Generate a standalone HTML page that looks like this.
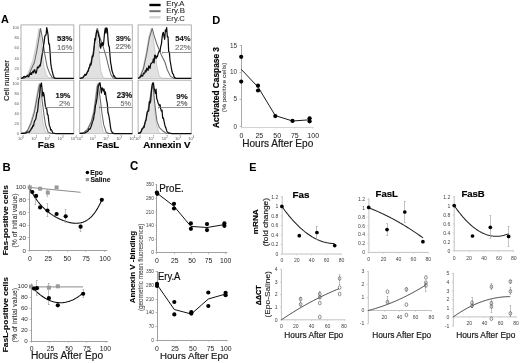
<!DOCTYPE html>
<html><head><meta charset="utf-8"><style>
html,body{margin:0;padding:0;background:#fff;}
svg{display:block;will-change:transform;}
text{font-family:"Liberation Sans", sans-serif;}
</style></head><body>
<svg width="520" height="363" viewBox="0 0 520 363">
<defs><filter id="bl" x="0" y="0" width="100%" height="100%"><feGaussianBlur stdDeviation="0.5"/></filter></defs>
<rect width="520" height="363" fill="#fff"/>
<g filter="url(#bl)">
<text font-size="11.159" font-weight="bold" fill="#000" stroke="#000" stroke-width="0.05" transform="translate(0.98 22.95) scale(0.976 1)">A</text>
<text font-size="11.594" font-weight="bold" fill="#000" stroke="#000" stroke-width="0.05" transform="translate(212.13 23.55) scale(0.954 1)">D</text>
<text font-size="11.159" font-weight="bold" fill="#000" stroke="#000" stroke-width="0.05" transform="translate(2.61 170.75) scale(1.014 1)">B</text>
<text font-size="12.113" font-weight="bold" fill="#000" stroke="#000" stroke-width="0.05" transform="translate(129.99 169.83) scale(0.945 1)">C</text>
<text font-size="11.486" font-weight="bold" fill="#000" stroke="#000" stroke-width="0.05" transform="translate(249.15 170.56) scale(0.940 1)">E</text>
<rect x="21.00" y="24.90" width="52.80" height="53.50" fill="#fff" stroke="#a8a8a8" stroke-width="0.9"/>
<path d="M21.00,78.40 L24.96,77.39 L28.00,73.35 L32.88,60.22 L36.05,46.08 L38.95,28.41 L40.80,36.48 L42.38,54.16 L43.97,66.78 L46.08,74.36 L48.06,77.39 L51.36,78.40 L73.80,78.40 L73.80,78.40 L21.00,78.40 Z" stroke="none" stroke-width="0" fill="#e1e1e1" stroke-linejoin="round"/>
<path d="M21.00,78.40 L24.96,77.39 L28.00,73.35 L32.88,60.22 L36.05,46.08 L38.95,28.41 L40.80,36.48 L42.38,54.16 L43.97,66.78 L46.08,74.36 L48.06,77.39 L51.36,78.40 L73.80,78.40" stroke="#c0c0c0" stroke-width="0.75" fill="none" stroke-linejoin="round"/>
<path d="M21.00,78.40 L24.96,77.90 L28.92,74.36 L34.46,62.24 L36.84,50.83 L39.22,36.48 L40.54,28.41 L42.38,38.00 L44.76,54.16 L47.14,66.78 L49.64,73.35 L52.02,77.39 L55.32,78.40 L73.80,78.40" stroke="#686868" stroke-width="1.05" fill="none" stroke-linejoin="round"/>
<path d="M21.00,78.40 L21.66,78.07 L22.32,77.74 L22.98,77.92 L23.64,76.54 L24.30,76.49 L24.96,77.22 L25.62,76.63 L26.28,76.56 L26.94,75.98 L27.60,75.52 L28.26,76.87 L28.92,76.72 L29.58,73.99 L30.24,74.37 L30.90,72.64 L31.56,74.44 L32.22,72.43 L32.88,71.19 L33.54,72.73 L34.20,69.82 L34.86,69.81 L35.52,73.10 L36.18,73.12 L36.84,70.01 L37.50,66.79 L38.16,67.85 L38.82,67.44 L39.48,65.17 L40.14,66.09 L40.80,63.05 L41.46,58.52 L42.12,54.85 L42.78,51.30 L43.44,46.26 L44.10,42.61 L44.76,36.62 L45.42,35.15 L46.08,34.95 L46.74,27.65 L47.40,30.89 L48.06,35.00 L48.72,43.90 L49.38,43.79 L50.04,51.64 L50.70,62.66 L51.36,67.41 L52.02,70.49 L52.68,73.22 L53.34,75.50 L54.00,77.38 L54.66,78.15 L55.32,78.23 L55.98,78.32 L56.64,78.40 L57.30,78.40 L57.96,78.40 L58.62,78.40 L59.28,78.40 L59.94,78.40 L60.60,78.40 L61.26,78.40 L61.92,78.40 L62.58,78.40 L63.24,78.40 L63.90,78.40 L64.56,78.40 L65.22,78.40 L65.88,78.40 L66.54,78.40 L67.20,78.40 L67.86,78.40 L68.52,78.40 L69.18,78.40 L69.84,78.40 L70.50,78.40 L71.16,78.40 L71.82,78.40 L72.48,78.40 L73.14,78.40 L73.80,78.40" stroke="#111" stroke-width="1.25" fill="none" stroke-linejoin="round"/>
<line x1="42.30" y1="52.50" x2="73.80" y2="52.50" stroke="#707070" stroke-width="0.75"/>
<line x1="42.50" y1="51.40" x2="42.50" y2="53.40" stroke="#707070" stroke-width="0.6"/>
<text font-size="7.606" font-weight="bold" fill="#1a1a1a" stroke="#1a1a1a" stroke-width="0.20" transform="translate(57.07 40.52) scale(1.007 1)">53%</text>
<text font-size="7.324" fill="#6a6a6a" stroke="#6a6a6a" stroke-width="0.10" transform="translate(57.02 49.63) scale(1.055 1)">16%</text>
<text x="18.8" y="79.70" font-size="3.8" text-anchor="end" fill="#555">0</text>
<line x1="20.00" y1="78.50" x2="21.00" y2="78.50" stroke="#999" stroke-width="0.5"/>
<text x="18.8" y="69.60" font-size="3.8" text-anchor="end" fill="#555">20</text>
<line x1="20.00" y1="68.50" x2="21.00" y2="68.50" stroke="#999" stroke-width="0.5"/>
<text x="18.8" y="59.50" font-size="3.8" text-anchor="end" fill="#555">40</text>
<line x1="20.00" y1="58.50" x2="21.00" y2="58.50" stroke="#999" stroke-width="0.5"/>
<text x="18.8" y="49.40" font-size="3.8" text-anchor="end" fill="#555">60</text>
<line x1="20.00" y1="48.50" x2="21.00" y2="48.50" stroke="#999" stroke-width="0.5"/>
<text x="18.8" y="39.30" font-size="3.8" text-anchor="end" fill="#555">80</text>
<line x1="20.00" y1="38.50" x2="21.00" y2="38.50" stroke="#999" stroke-width="0.5"/>
<text x="18.8" y="29.20" font-size="3.8" text-anchor="end" fill="#555">100</text>
<line x1="20.00" y1="27.50" x2="21.00" y2="27.50" stroke="#999" stroke-width="0.5"/>
<rect x="79.70" y="24.90" width="52.60" height="53.50" fill="#fff" stroke="#a8a8a8" stroke-width="0.9"/>
<path d="M79.70,78.40 L83.65,76.89 L87.06,72.84 L90.22,64.26 L92.59,55.17 L94.17,45.07 L95.48,33.96 L96.66,28.41 L97.85,40.52 L99.03,54.16 L100.74,70.32 L102.98,77.39 L105.34,78.40 L132.30,78.40 L132.30,78.40 L79.70,78.40 Z" stroke="none" stroke-width="0" fill="#e1e1e1" stroke-linejoin="round"/>
<path d="M79.70,78.40 L83.65,76.89 L87.06,72.84 L90.22,64.26 L92.59,55.17 L94.17,45.07 L95.48,33.96 L96.66,28.41 L97.85,40.52 L99.03,54.16 L100.74,70.32 L102.98,77.39 L105.34,78.40 L132.30,78.40" stroke="#c0c0c0" stroke-width="0.75" fill="none" stroke-linejoin="round"/>
<path d="M79.70,78.40 L83.65,76.89 L87.06,73.35 L90.22,64.77 L92.59,56.18 L94.17,47.09 L95.48,36.99 L97.45,28.41 L100.08,38.00 L102.98,46.08 L106.26,57.19 L108.63,66.78 L111.00,74.87 L113.23,77.90 L115.21,78.40 L132.30,78.40" stroke="#686868" stroke-width="1.05" fill="none" stroke-linejoin="round"/>
<path d="M79.70,78.40 L80.36,78.27 L81.02,78.15 L81.67,78.02 L82.33,77.90 L82.99,77.82 L83.65,76.12 L84.30,75.55 L84.96,74.19 L85.62,75.31 L86.28,74.80 L86.93,72.73 L87.59,71.43 L88.25,71.12 L88.91,67.82 L89.56,67.45 L90.22,63.84 L90.88,65.15 L91.54,62.43 L92.19,55.99 L92.85,56.80 L93.51,54.21 L94.17,46.77 L94.82,38.69 L95.48,40.00 L96.14,34.79 L96.80,30.47 L97.45,31.77 L98.11,32.44 L98.77,36.56 L99.43,37.61 L100.08,46.57 L100.74,48.29 L101.40,43.02 L102.06,45.74 L102.71,42.65 L103.37,45.22 L104.03,38.97 L104.69,31.48 L105.34,28.07 L106.00,33.20 L106.66,27.86 L107.32,29.22 L107.97,38.82 L108.63,45.74 L109.29,46.53 L109.95,55.04 L110.60,62.36 L111.26,65.60 L111.92,70.56 L112.58,72.40 L113.23,74.41 L113.89,76.45 L114.55,75.93 L115.21,77.98 L115.86,77.90 L116.52,78.40 L117.18,78.40 L117.84,78.40 L118.49,78.40 L119.15,78.40 L119.81,78.40 L120.47,78.40 L121.12,78.40 L121.78,78.40 L122.44,78.40 L123.09,78.40 L123.75,78.40 L124.41,78.40 L125.07,78.40 L125.73,78.40 L126.38,78.40 L127.04,78.40 L127.70,78.40 L128.36,78.40 L129.01,78.40 L129.67,78.40 L130.33,78.40 L130.99,78.40 L131.64,78.40 L132.30,78.40" stroke="#111" stroke-width="1.25" fill="none" stroke-linejoin="round"/>
<line x1="99.60" y1="52.50" x2="132.30" y2="52.50" stroke="#707070" stroke-width="0.75"/>
<line x1="99.50" y1="51.40" x2="99.50" y2="53.40" stroke="#707070" stroke-width="0.6"/>
<text font-size="7.183" font-weight="bold" fill="#1a1a1a" stroke="#1a1a1a" stroke-width="0.10" transform="translate(115.71 40.83) scale(1.042 1)">39%</text>
<text font-size="7.801" fill="#6a6a6a" stroke="#6a6a6a" stroke-width="0.20" transform="translate(115.52 49.36) scale(0.977 1)">22%</text>
<rect x="138.10" y="24.90" width="53.20" height="53.50" fill="#fff" stroke="#a8a8a8" stroke-width="0.9"/>
<path d="M138.10,78.40 L139.43,76.89 L142.75,69.31 L146.08,53.15 L148.74,36.99 L151.40,28.41 L153.40,39.01 L155.39,54.16 L156.99,66.78 L159.38,76.38 L162.04,78.40 L191.30,78.40 L191.30,78.40 L138.10,78.40 Z" stroke="none" stroke-width="0" fill="#e1e1e1" stroke-linejoin="round"/>
<path d="M138.10,78.40 L139.43,76.89 L142.75,69.31 L146.08,53.15 L148.74,36.99 L151.40,28.41 L153.40,39.01 L155.39,54.16 L156.99,66.78 L159.38,76.38 L162.04,78.40 L191.30,78.40" stroke="#c0c0c0" stroke-width="0.75" fill="none" stroke-linejoin="round"/>
<path d="M138.10,78.40 L140.23,76.38 L143.42,68.81 L146.61,54.16 L149.41,38.00 L152.20,28.41 L154.06,35.48 L156.99,44.56 L160.98,54.16 L164.97,62.24 L167.36,70.02 L170.55,76.38 L174.01,78.40 L191.30,78.40" stroke="#686868" stroke-width="1.05" fill="none" stroke-linejoin="round"/>
<path d="M138.10,78.40 L138.76,78.08 L139.43,77.77 L140.09,77.25 L140.76,76.47 L141.42,75.14 L142.09,76.16 L142.75,75.90 L143.42,73.04 L144.09,73.72 L144.75,72.79 L145.41,70.34 L146.08,71.93 L146.75,68.18 L147.41,69.25 L148.07,70.45 L148.74,65.93 L149.41,66.84 L150.07,68.52 L150.73,63.89 L151.40,63.32 L152.06,62.62 L152.73,62.21 L153.40,58.83 L154.06,62.92 L154.72,55.15 L155.39,55.48 L156.06,58.53 L156.72,56.07 L157.38,56.96 L158.05,53.88 L158.72,52.17 L159.38,50.70 L160.05,51.28 L160.71,46.29 L161.38,44.35 L162.04,37.82 L162.71,33.58 L163.37,32.39 L164.03,36.58 L164.70,39.33 L165.37,29.98 L166.03,31.51 L166.69,27.65 L167.36,36.99 L168.03,36.77 L168.69,51.78 L169.36,52.10 L170.02,60.40 L170.69,64.00 L171.35,67.99 L172.01,71.54 L172.68,73.81 L173.34,74.13 L174.01,76.62 L174.68,77.66 L175.34,77.90 L176.00,78.32 L176.67,78.40 L177.34,78.40 L178.00,78.40 L178.67,78.40 L179.33,78.40 L180.00,78.40 L180.66,78.40 L181.33,78.40 L181.99,78.40 L182.66,78.40 L183.32,78.40 L183.99,78.40 L184.65,78.40 L185.31,78.40 L185.98,78.40 L186.65,78.40 L187.31,78.40 L187.98,78.40 L188.64,78.40 L189.31,78.40 L189.97,78.40 L190.64,78.40 L191.30,78.40" stroke="#111" stroke-width="1.25" fill="none" stroke-linejoin="round"/>
<line x1="162.40" y1="52.50" x2="191.30" y2="52.50" stroke="#707070" stroke-width="0.75"/>
<line x1="162.50" y1="51.70" x2="162.50" y2="53.70" stroke="#707070" stroke-width="0.6"/>
<text font-size="7.234" font-weight="bold" fill="#1a1a1a" stroke="#1a1a1a" stroke-width="0.10" transform="translate(175.27 41.13) scale(1.059 1)">54%</text>
<text font-size="7.376" fill="#6a6a6a" stroke="#6a6a6a" stroke-width="0.10" transform="translate(175.11 49.66) scale(1.055 1)">22%</text>
<rect x="21.00" y="80.20" width="52.80" height="53.30" fill="#fff" stroke="#a8a8a8" stroke-width="0.9"/>
<path d="M21.00,133.50 L24.96,132.49 L27.60,129.98 L30.50,122.43 L33.94,110.87 L36.18,98.29 L37.90,88.23 L38.95,83.70 L41.59,111.87 L43.18,123.94 L45.55,131.99 L48.72,133.50 L73.80,133.50 L73.80,133.50 L21.00,133.50 Z" stroke="none" stroke-width="0" fill="#e1e1e1" stroke-linejoin="round"/>
<path d="M21.00,133.50 L24.96,132.49 L27.60,129.98 L30.50,122.43 L33.94,110.87 L36.18,98.29 L37.90,88.23 L38.95,83.70 L41.59,111.87 L43.18,123.94 L45.55,131.99 L48.72,133.50 L73.80,133.50" stroke="#c0c0c0" stroke-width="0.75" fill="none" stroke-linejoin="round"/>
<path d="M21.00,133.50 L24.96,132.75 L27.60,130.48 L31.16,122.94 L34.46,111.87 L36.84,98.79 L38.82,88.23 L40.01,83.70 L42.38,101.81 L43.97,114.89 L45.55,124.95 L48.06,131.99 L51.36,133.50 L73.80,133.50" stroke="#686868" stroke-width="1.05" fill="none" stroke-linejoin="round"/>
<path d="M21.00,133.50 L21.66,133.46 L22.32,133.42 L22.98,133.37 L23.64,133.33 L24.30,133.29 L24.96,133.25 L25.62,133.06 L26.28,132.87 L26.94,132.31 L27.60,132.04 L28.26,132.02 L28.92,131.97 L29.58,132.11 L30.24,130.08 L30.90,130.06 L31.56,127.98 L32.22,128.01 L32.88,125.35 L33.54,126.10 L34.20,122.26 L34.86,120.38 L35.52,119.87 L36.18,117.10 L36.84,112.61 L37.50,111.95 L38.16,105.50 L38.82,98.54 L39.48,97.52 L40.14,87.80 L40.80,84.41 L41.46,82.95 L42.12,89.96 L42.78,96.08 L43.44,92.47 L44.10,95.25 L44.76,101.00 L45.42,106.45 L46.08,108.66 L46.74,108.74 L47.40,114.59 L48.06,114.77 L48.72,120.99 L49.38,125.70 L50.04,126.88 L50.70,130.03 L51.36,129.66 L52.02,130.97 L52.68,132.79 L53.34,133.10 L54.00,133.24 L54.66,133.37 L55.32,133.50 L55.98,133.50 L56.64,133.50 L57.30,133.50 L57.96,133.50 L58.62,133.50 L59.28,133.50 L59.94,133.50 L60.60,133.50 L61.26,133.50 L61.92,133.50 L62.58,133.50 L63.24,133.50 L63.90,133.50 L64.56,133.50 L65.22,133.50 L65.88,133.50 L66.54,133.50 L67.20,133.50 L67.86,133.50 L68.52,133.50 L69.18,133.50 L69.84,133.50 L70.50,133.50 L71.16,133.50 L71.82,133.50 L72.48,133.50 L73.14,133.50 L73.80,133.50" stroke="#111" stroke-width="1.25" fill="none" stroke-linejoin="round"/>
<line x1="45.30" y1="107.50" x2="73.80" y2="107.50" stroke="#707070" stroke-width="0.75"/>
<line x1="45.50" y1="106.40" x2="45.50" y2="108.40" stroke="#707070" stroke-width="0.6"/>
<text font-size="7.887" font-weight="bold" fill="#1a1a1a" stroke="#1a1a1a" stroke-width="0.20" transform="translate(55.52 97.82) scale(0.943 1)">19%</text>
<text font-size="7.092" fill="#6a6a6a" stroke="#6a6a6a" stroke-width="0.10" transform="translate(58.91 106.16) scale(1.099 1)">2%</text>
<text x="21.00" y="139.6" font-size="4.0" text-anchor="middle" fill="#555">10<tspan font-size="2.8" dy="-1.7">0</tspan></text>
<text x="34.20" y="139.6" font-size="4.0" text-anchor="middle" fill="#555">10<tspan font-size="2.8" dy="-1.7">1</tspan></text>
<text x="47.40" y="139.6" font-size="4.0" text-anchor="middle" fill="#555">10<tspan font-size="2.8" dy="-1.7">2</tspan></text>
<text x="60.60" y="139.6" font-size="4.0" text-anchor="middle" fill="#555">10<tspan font-size="2.8" dy="-1.7">3</tspan></text>
<text x="73.80" y="139.6" font-size="4.0" text-anchor="middle" fill="#555">10<tspan font-size="2.8" dy="-1.7">4</tspan></text>
<text x="18.8" y="134.80" font-size="3.8" text-anchor="end" fill="#555">0</text>
<line x1="20.00" y1="133.50" x2="21.00" y2="133.50" stroke="#999" stroke-width="0.5"/>
<text x="18.8" y="124.74" font-size="3.8" text-anchor="end" fill="#555">20</text>
<line x1="20.00" y1="123.50" x2="21.00" y2="123.50" stroke="#999" stroke-width="0.5"/>
<text x="18.8" y="114.68" font-size="3.8" text-anchor="end" fill="#555">40</text>
<line x1="20.00" y1="113.50" x2="21.00" y2="113.50" stroke="#999" stroke-width="0.5"/>
<text x="18.8" y="104.62" font-size="3.8" text-anchor="end" fill="#555">60</text>
<line x1="20.00" y1="103.50" x2="21.00" y2="103.50" stroke="#999" stroke-width="0.5"/>
<text x="18.8" y="94.56" font-size="3.8" text-anchor="end" fill="#555">80</text>
<line x1="20.00" y1="93.50" x2="21.00" y2="93.50" stroke="#999" stroke-width="0.5"/>
<text x="18.8" y="84.50" font-size="3.8" text-anchor="end" fill="#555">100</text>
<line x1="20.00" y1="83.50" x2="21.00" y2="83.50" stroke="#999" stroke-width="0.5"/>
<rect x="79.70" y="80.20" width="52.60" height="53.30" fill="#fff" stroke="#a8a8a8" stroke-width="0.9"/>
<path d="M79.70,133.50 L83.65,132.49 L87.33,128.97 L90.88,121.43 L93.51,110.87 L95.22,98.29 L96.53,87.22 L97.45,83.70 L99.82,111.87 L101.40,123.94 L103.37,131.99 L106.00,133.50 L132.30,133.50 L132.30,133.50 L79.70,133.50 Z" stroke="none" stroke-width="0" fill="#e1e1e1" stroke-linejoin="round"/>
<path d="M79.70,133.50 L83.65,132.49 L87.33,128.97 L90.88,121.43 L93.51,110.87 L95.22,98.29 L96.53,87.22 L97.45,83.70 L99.82,111.87 L101.40,123.94 L103.37,131.99 L106.00,133.50 L132.30,133.50" stroke="#c0c0c0" stroke-width="0.75" fill="none" stroke-linejoin="round"/>
<path d="M79.70,133.50 L83.65,132.75 L87.59,129.48 L91.27,121.93 L93.90,112.37 L95.48,100.81 L97.19,87.22 L98.24,83.70 L100.61,101.81 L102.19,114.89 L103.76,124.95 L106.13,131.99 L108.63,133.50 L132.30,133.50" stroke="#686868" stroke-width="1.05" fill="none" stroke-linejoin="round"/>
<path d="M79.70,133.50 L80.36,133.46 L81.02,133.42 L81.67,133.37 L82.33,133.33 L82.99,133.29 L83.65,133.25 L84.30,133.06 L84.96,132.87 L85.62,132.46 L86.28,132.09 L86.93,131.83 L87.59,131.21 L88.25,130.86 L88.91,128.66 L89.56,129.37 L90.22,128.69 L90.88,127.12 L91.54,125.27 L92.19,122.90 L92.85,121.13 L93.51,119.05 L94.17,114.73 L94.82,111.77 L95.48,105.32 L96.14,103.22 L96.80,99.51 L97.45,94.23 L98.11,86.81 L98.77,85.81 L99.43,82.95 L100.08,82.95 L100.74,88.05 L101.40,93.02 L102.06,87.86 L102.71,88.37 L103.37,91.09 L104.03,89.05 L104.69,94.30 L105.34,91.90 L106.00,96.53 L106.66,100.78 L107.32,103.52 L107.97,112.52 L108.63,114.71 L109.29,118.12 L109.95,122.76 L110.60,127.85 L111.26,130.94 L111.92,131.87 L112.58,133.10 L113.23,133.03 L113.89,133.50 L114.55,133.50 L115.21,133.50 L115.86,133.50 L116.52,133.50 L117.18,133.50 L117.84,133.50 L118.49,133.50 L119.15,133.50 L119.81,133.50 L120.47,133.50 L121.12,133.50 L121.78,133.50 L122.44,133.50 L123.09,133.50 L123.75,133.50 L124.41,133.50 L125.07,133.50 L125.73,133.50 L126.38,133.50 L127.04,133.50 L127.70,133.50 L128.36,133.50 L129.01,133.50 L129.67,133.50 L130.33,133.50 L130.99,133.50 L131.64,133.50 L132.30,133.50" stroke="#111" stroke-width="1.25" fill="none" stroke-linejoin="round"/>
<line x1="99.30" y1="107.50" x2="132.30" y2="107.50" stroke="#707070" stroke-width="0.75"/>
<line x1="99.50" y1="106.50" x2="99.50" y2="108.50" stroke="#707070" stroke-width="0.6"/>
<text font-size="8.225" font-weight="bold" fill="#1a1a1a" stroke="#1a1a1a" stroke-width="0.20" transform="translate(116.73 98.09) scale(0.940 1)">23%</text>
<text font-size="6.525" fill="#6a6a6a" stroke="#6a6a6a" stroke-width="0.10" transform="translate(120.61 105.73) scale(1.108 1)">5%</text>
<text x="79.70" y="139.6" font-size="4.0" text-anchor="middle" fill="#555">10<tspan font-size="2.8" dy="-1.7">0</tspan></text>
<text x="92.85" y="139.6" font-size="4.0" text-anchor="middle" fill="#555">10<tspan font-size="2.8" dy="-1.7">1</tspan></text>
<text x="106.00" y="139.6" font-size="4.0" text-anchor="middle" fill="#555">10<tspan font-size="2.8" dy="-1.7">2</tspan></text>
<text x="119.15" y="139.6" font-size="4.0" text-anchor="middle" fill="#555">10<tspan font-size="2.8" dy="-1.7">3</tspan></text>
<text x="132.30" y="139.6" font-size="4.0" text-anchor="middle" fill="#555">10<tspan font-size="2.8" dy="-1.7">4</tspan></text>
<rect x="138.10" y="80.20" width="53.20" height="53.30" fill="#fff" stroke="#a8a8a8" stroke-width="0.9"/>
<path d="M138.10,133.50 L140.23,132.49 L143.42,126.96 L145.81,119.92 L148.21,107.34 L150.60,93.26 L152.60,83.70 L154.59,109.86 L156.19,122.69 L158.58,131.49 L160.71,133.50 L191.30,133.50 L191.30,133.50 L138.10,133.50 Z" stroke="none" stroke-width="0" fill="#e1e1e1" stroke-linejoin="round"/>
<path d="M138.10,133.50 L140.23,132.49 L143.42,126.96 L145.81,119.92 L148.21,107.34 L150.60,93.26 L152.60,83.70 L154.59,109.86 L156.19,122.69 L158.58,131.49 L160.71,133.50 L191.30,133.50" stroke="#c0c0c0" stroke-width="0.75" fill="none" stroke-linejoin="round"/>
<path d="M138.10,133.50 L140.23,132.49 L143.42,127.46 L145.81,120.92 L148.21,109.36 L150.60,96.28 L153.00,83.70 L154.59,101.81 L155.92,113.38 L156.99,121.43 L159.38,127.61 L162.57,130.73 L165.76,133.00 L168.69,133.50 L191.30,133.50" stroke="#686868" stroke-width="1.05" fill="none" stroke-linejoin="round"/>
<path d="M138.10,133.50 L138.76,133.19 L139.43,132.87 L140.09,133.14 L140.76,132.23 L141.42,131.13 L142.09,128.53 L142.75,128.64 L143.42,126.86 L144.09,127.46 L144.75,124.14 L145.41,120.84 L146.08,120.02 L146.75,114.36 L147.41,111.31 L148.07,111.38 L148.74,110.71 L149.41,101.59 L150.07,103.14 L150.73,100.72 L151.40,90.41 L152.06,85.26 L152.73,82.95 L153.40,82.95 L154.06,87.83 L154.72,90.63 L155.39,93.50 L156.06,89.04 L156.72,98.81 L157.38,100.07 L158.05,102.91 L158.72,104.26 L159.38,105.73 L160.05,104.67 L160.71,108.91 L161.38,110.99 L162.04,110.20 L162.71,118.24 L163.37,117.96 L164.03,121.12 L164.70,124.61 L165.37,126.88 L166.03,128.34 L166.69,130.66 L167.36,132.03 L168.03,132.40 L168.69,133.06 L169.36,133.08 L170.02,133.22 L170.69,133.36 L171.35,133.50 L172.01,133.50 L172.68,133.50 L173.34,133.50 L174.01,133.50 L174.68,133.50 L175.34,133.50 L176.00,133.50 L176.67,133.50 L177.34,133.50 L178.00,133.50 L178.67,133.50 L179.33,133.50 L180.00,133.50 L180.66,133.50 L181.33,133.50 L181.99,133.50 L182.66,133.50 L183.32,133.50 L183.99,133.50 L184.65,133.50 L185.31,133.50 L185.98,133.50 L186.65,133.50 L187.31,133.50 L187.98,133.50 L188.64,133.50 L189.31,133.50 L189.97,133.50 L190.64,133.50 L191.30,133.50" stroke="#111" stroke-width="1.25" fill="none" stroke-linejoin="round"/>
<line x1="158.30" y1="107.50" x2="191.30" y2="107.50" stroke="#707070" stroke-width="0.75"/>
<line x1="158.50" y1="106.50" x2="158.50" y2="108.50" stroke="#707070" stroke-width="0.6"/>
<text font-size="8.028" font-weight="bold" fill="#1a1a1a" stroke="#1a1a1a" stroke-width="0.20" transform="translate(176.32 98.52) scale(0.980 1)">9%</text>
<text font-size="7.518" fill="#6a6a6a" stroke="#6a6a6a" stroke-width="0.20" transform="translate(176.52 106.46) scale(1.007 1)">2%</text>
<text x="138.10" y="139.6" font-size="4.0" text-anchor="middle" fill="#555">10<tspan font-size="2.8" dy="-1.7">0</tspan></text>
<text x="151.40" y="139.6" font-size="4.0" text-anchor="middle" fill="#555">10<tspan font-size="2.8" dy="-1.7">1</tspan></text>
<text x="164.70" y="139.6" font-size="4.0" text-anchor="middle" fill="#555">10<tspan font-size="2.8" dy="-1.7">2</tspan></text>
<text x="178.00" y="139.6" font-size="4.0" text-anchor="middle" fill="#555">10<tspan font-size="2.8" dy="-1.7">3</tspan></text>
<text x="191.30" y="139.6" font-size="4.0" text-anchor="middle" fill="#555">10<tspan font-size="2.8" dy="-1.7">4</tspan></text>
<text font-size="9.855" font-weight="bold" fill="#000" stroke="#000" stroke-width="0.20" transform="translate(37.86 148.40) scale(0.999 1)">Fas</text>
<text font-size="9.855" font-weight="bold" fill="#000" stroke="#000" stroke-width="0.20" transform="translate(96.62 148.40) scale(0.985 1)">FasL</text>
<text font-size="9.855" font-weight="bold" fill="#000" stroke="#000" stroke-width="0.20" transform="translate(143.26 148.40) scale(0.981 1)">Annexin V</text>
<text font-size="8.091" fill="#222" stroke="#222" stroke-width="0.20" transform="translate(8.84 101.08) rotate(-90) scale(0.940 1)">Cell number</text>
<line x1="149.40" y1="5.00" x2="160.60" y2="5.00" stroke="#000" stroke-width="2.4"/>
<line x1="149.40" y1="11.20" x2="160.60" y2="11.20" stroke="#6a6a6a" stroke-width="1.9"/>
<line x1="149.40" y1="17.30" x2="160.60" y2="17.30" stroke="#d6d6d6" stroke-width="2.4"/>
<text font-size="7.101" fill="#2a2a2a" stroke="#2a2a2a" stroke-width="0.10" transform="translate(166.29 6.40) scale(1.082 1)">Ery.A</text>
<text font-size="6.957" fill="#2a2a2a" stroke="#2a2a2a" stroke-width="0.10" transform="translate(166.27 13.30) scale(1.129 1)">Ery.B</text>
<text font-size="7.391" fill="#2a2a2a" stroke="#2a2a2a" stroke-width="0.10" transform="translate(166.29 20.60) scale(1.033 1)">Ery.C</text>
<line x1="241.50" y1="45.00" x2="241.50" y2="127.00" stroke="#a0a0a0" stroke-width="0.9"/>
<line x1="241.20" y1="127.50" x2="313.50" y2="127.50" stroke="#c8c8c8" stroke-width="0.8"/>
<line x1="239.60" y1="126.50" x2="241.20" y2="126.50" stroke="#a0a0a0" stroke-width="0.7"/>
<line x1="239.60" y1="99.50" x2="241.20" y2="99.50" stroke="#a0a0a0" stroke-width="0.7"/>
<line x1="239.60" y1="72.50" x2="241.20" y2="72.50" stroke="#a0a0a0" stroke-width="0.7"/>
<line x1="239.60" y1="45.50" x2="241.20" y2="45.50" stroke="#a0a0a0" stroke-width="0.7"/>
<text x="237.00" y="47.71" font-size="6.4" text-anchor="end" fill="#333">15</text>
<text x="237.00" y="74.21" font-size="6.4" text-anchor="end" fill="#333">10</text>
<text x="237.00" y="101.41" font-size="6.4" text-anchor="end" fill="#333">5</text>
<text x="237.00" y="128.51" font-size="6.4" text-anchor="end" fill="#333">0</text>
<line x1="241.50" y1="127.00" x2="241.50" y2="128.50" stroke="#c8c8c8" stroke-width="0.6"/>
<text x="241.40" y="137.91" font-size="7.0" text-anchor="middle" fill="#222">0</text>
<line x1="259.50" y1="127.00" x2="259.50" y2="128.50" stroke="#c8c8c8" stroke-width="0.6"/>
<text x="259.30" y="137.91" font-size="7.0" text-anchor="middle" fill="#222">25</text>
<line x1="276.50" y1="127.00" x2="276.50" y2="128.50" stroke="#c8c8c8" stroke-width="0.6"/>
<text x="277.20" y="137.91" font-size="7.0" text-anchor="middle" fill="#222">50</text>
<line x1="294.50" y1="127.00" x2="294.50" y2="128.50" stroke="#c8c8c8" stroke-width="0.6"/>
<text x="294.80" y="137.91" font-size="7.0" text-anchor="middle" fill="#222">75</text>
<line x1="312.50" y1="127.00" x2="312.50" y2="128.50" stroke="#c8c8c8" stroke-width="0.6"/>
<text x="313.20" y="137.91" font-size="7.0" text-anchor="middle" fill="#222">100</text>
<text font-size="10.507" fill="#1a1a1a" stroke="#1a1a1a" stroke-width="0.20" transform="translate(242.19 146.50) scale(0.960 1)">Hours After Epo</text>
<text font-size="8.872" font-weight="bold" fill="#000" stroke="#000" stroke-width="0.20" transform="translate(219.16 128.01) rotate(-90) scale(0.940 1)">Activated Caspase 3</text>
<text font-size="5.348" fill="#444" stroke="#444" stroke-width="0.10" transform="translate(226.18 112.30) rotate(-90) scale(1.242 1)">(% positive cells)</text>
<path d="M241.20,69.30 L258.00,87.00 L275.30,115.60 L292.50,121.00 L309.60,119.80" stroke="#1a1a1a" stroke-width="1.0" fill="none" stroke-linejoin="round"/>
<circle cx="241.20" cy="56.80" r="2.1" fill="#000"/>
<circle cx="241.20" cy="81.60" r="2.1" fill="#000"/>
<circle cx="258.00" cy="85.70" r="2.1" fill="#000"/>
<circle cx="258.00" cy="90.50" r="2.1" fill="#000"/>
<circle cx="275.30" cy="116.10" r="2.1" fill="#000"/>
<circle cx="292.50" cy="120.90" r="2.1" fill="#000"/>
<circle cx="309.60" cy="118.30" r="2.1" fill="#000"/>
<circle cx="309.60" cy="121.30" r="2.1" fill="#000"/>
<line x1="29.50" y1="184.50" x2="29.50" y2="250.40" stroke="#a0a0a0" stroke-width="1.0"/>
<line x1="29.20" y1="250.50" x2="107.30" y2="250.50" stroke="#a0a0a0" stroke-width="1.0"/>
<line x1="27.70" y1="250.50" x2="29.20" y2="250.50" stroke="#a0a0a0" stroke-width="0.7"/>
<text x="26.00" y="252.54" font-size="6.2" text-anchor="end" fill="#333">0</text>
<line x1="27.70" y1="237.50" x2="29.20" y2="237.50" stroke="#a0a0a0" stroke-width="0.7"/>
<text x="26.00" y="239.92" font-size="6.2" text-anchor="end" fill="#333">20</text>
<line x1="27.70" y1="225.50" x2="29.20" y2="225.50" stroke="#a0a0a0" stroke-width="0.7"/>
<text x="26.00" y="227.30" font-size="6.2" text-anchor="end" fill="#333">40</text>
<line x1="27.70" y1="212.50" x2="29.20" y2="212.50" stroke="#a0a0a0" stroke-width="0.7"/>
<text x="26.00" y="214.68" font-size="6.2" text-anchor="end" fill="#333">60</text>
<line x1="27.70" y1="199.50" x2="29.20" y2="199.50" stroke="#a0a0a0" stroke-width="0.7"/>
<text x="26.00" y="202.06" font-size="6.2" text-anchor="end" fill="#333">80</text>
<line x1="27.70" y1="187.50" x2="29.20" y2="187.50" stroke="#a0a0a0" stroke-width="0.7"/>
<text x="26.00" y="189.44" font-size="6.2" text-anchor="end" fill="#333">100</text>
<line x1="29.50" y1="250.40" x2="29.50" y2="251.90" stroke="#a0a0a0" stroke-width="0.7"/>
<text x="30.00" y="261.15" font-size="6.8" text-anchor="middle" fill="#222">0</text>
<line x1="48.50" y1="250.40" x2="48.50" y2="251.90" stroke="#a0a0a0" stroke-width="0.7"/>
<text x="48.30" y="261.15" font-size="6.8" text-anchor="middle" fill="#222">25</text>
<line x1="67.50" y1="250.40" x2="67.50" y2="251.90" stroke="#a0a0a0" stroke-width="0.7"/>
<text x="67.20" y="261.15" font-size="6.8" text-anchor="middle" fill="#222">50</text>
<line x1="85.50" y1="250.40" x2="85.50" y2="251.90" stroke="#a0a0a0" stroke-width="0.7"/>
<text x="86.00" y="261.15" font-size="6.8" text-anchor="middle" fill="#222">75</text>
<line x1="104.50" y1="250.40" x2="104.50" y2="251.90" stroke="#a0a0a0" stroke-width="0.7"/>
<text x="105.00" y="261.15" font-size="6.8" text-anchor="middle" fill="#222">100</text>
<path d="M29.50,187.40 L80.60,192.30" stroke="#8a8a8a" stroke-width="1.0" fill="none" stroke-linejoin="round"/>
<path d="M29.20,187.30 L29.96,188.80 L30.71,190.24 L31.47,191.63 L32.22,192.97 L32.98,194.25 L33.74,195.49 L34.49,196.68 L35.25,197.82 L36.00,198.92 L36.76,199.98 L37.52,201.00 L38.27,201.98 L39.03,202.92 L39.78,203.83 L40.54,204.70 L41.30,205.55 L42.05,206.36 L42.81,207.14 L43.56,207.89 L44.32,208.62 L45.08,209.32 L45.83,210.00 L46.59,210.65 L47.34,211.28 L48.10,211.89 L48.86,212.47 L49.61,213.04 L50.37,213.59 L51.12,214.12 L51.88,214.63 L52.64,215.13 L53.39,215.61 L54.15,216.07 L54.90,216.52 L55.66,216.96 L56.42,217.37 L57.17,217.78 L57.93,218.17 L58.68,218.55 L59.44,218.91 L60.20,219.27 L60.95,219.60 L61.71,219.93 L62.46,220.24 L63.22,220.54 L63.98,220.82 L64.73,221.10 L65.49,221.35 L66.24,221.60 L67.00,221.83 L67.76,222.04 L68.51,222.24 L69.27,222.43 L70.02,222.59 L70.78,222.74 L71.54,222.88 L72.29,222.99 L73.05,223.09 L73.80,223.17 L74.56,223.22 L75.32,223.26 L76.07,223.27 L76.83,223.26 L77.58,223.22 L78.34,223.16 L79.10,223.07 L79.85,222.95 L80.61,222.80 L81.36,222.63 L82.12,222.42 L82.88,222.17 L83.63,221.89 L84.39,221.58 L85.14,221.23 L85.90,220.83 L86.66,220.40 L87.41,219.92 L88.17,219.40 L88.92,218.83 L89.68,218.21 L90.44,217.54 L91.19,216.82 L91.95,216.04 L92.70,215.21 L93.46,214.32 L94.22,213.36 L94.97,212.35 L95.73,211.26 L96.48,210.11 L97.24,208.89 L98.00,207.59 L98.75,206.22 L99.51,204.77 L100.26,203.24 L101.02,201.62 L101.78,199.92" stroke="#111" stroke-width="1.1" fill="none" stroke-linejoin="round"/>
<line x1="35.50" y1="204.97" x2="35.50" y2="194.87" stroke="#9a9a9a" stroke-width="0.6"/>
<line x1="34.35" y1="204.50" x2="36.15" y2="204.50" stroke="#9a9a9a" stroke-width="0.6"/>
<line x1="34.35" y1="194.50" x2="36.15" y2="194.50" stroke="#9a9a9a" stroke-width="0.6"/>
<line x1="47.50" y1="216.96" x2="47.50" y2="203.71" stroke="#9a9a9a" stroke-width="0.6"/>
<line x1="46.44" y1="216.50" x2="48.24" y2="216.50" stroke="#9a9a9a" stroke-width="0.6"/>
<line x1="46.44" y1="203.50" x2="48.24" y2="203.50" stroke="#9a9a9a" stroke-width="0.6"/>
<line x1="65.50" y1="222.00" x2="65.50" y2="209.38" stroke="#9a9a9a" stroke-width="0.6"/>
<line x1="64.59" y1="222.50" x2="66.39" y2="222.50" stroke="#9a9a9a" stroke-width="0.6"/>
<line x1="64.59" y1="209.50" x2="66.39" y2="209.50" stroke="#9a9a9a" stroke-width="0.6"/>
<line x1="80.50" y1="231.47" x2="80.50" y2="223.90" stroke="#9a9a9a" stroke-width="0.6"/>
<line x1="79.71" y1="231.50" x2="81.51" y2="231.50" stroke="#9a9a9a" stroke-width="0.6"/>
<line x1="79.71" y1="223.50" x2="81.51" y2="223.50" stroke="#9a9a9a" stroke-width="0.6"/>
<line x1="47.50" y1="196.13" x2="47.50" y2="189.82" stroke="#9a9a9a" stroke-width="0.6"/>
<line x1="46.44" y1="196.50" x2="48.24" y2="196.50" stroke="#9a9a9a" stroke-width="0.6"/>
<line x1="46.44" y1="189.50" x2="48.24" y2="189.50" stroke="#9a9a9a" stroke-width="0.6"/>
<rect x="27.80" y="185.40" width="4.0" height="4.0" fill="#9a9a9a"/>
<rect x="38.10" y="186.70" width="4.0" height="4.0" fill="#9a9a9a"/>
<rect x="45.80" y="190.60" width="4.0" height="4.0" fill="#9a9a9a"/>
<rect x="54.60" y="185.40" width="4.0" height="4.0" fill="#9a9a9a"/>
<circle cx="32.30" cy="192.00" r="2.1" fill="#000"/>
<circle cx="36.10" cy="195.90" r="2.1" fill="#000"/>
<circle cx="40.10" cy="207.40" r="2.1" fill="#000"/>
<circle cx="47.50" cy="210.50" r="2.1" fill="#000"/>
<circle cx="56.60" cy="214.00" r="2.1" fill="#000"/>
<circle cx="65.70" cy="216.30" r="2.1" fill="#000"/>
<circle cx="80.60" cy="226.70" r="2.1" fill="#000"/>
<circle cx="101.80" cy="199.80" r="2.1" fill="#000"/>
<circle cx="87.40" cy="172.60" r="1.75" fill="#000"/>
<rect x="85.75" y="177.95" width="3.3" height="3.3" fill="#9a9a9a"/>
<text font-size="7.152" font-weight="bold" fill="#111" stroke="#111" stroke-width="0.10" transform="translate(90.16 174.67) scale(0.940 1)">Epo</text>
<text font-size="7.240" font-weight="bold" fill="#111" stroke="#111" stroke-width="0.10" transform="translate(90.40 181.50) scale(0.940 1)">Saline</text>
<text font-size="7.380" font-weight="bold" fill="#000" stroke="#000" stroke-width="0.10" transform="translate(8.05 255.35) rotate(-90) scale(1.144 1)">Fas-positive cells</text>
<text font-size="6.845" fill="#333" stroke="#333" stroke-width="0.10" transform="translate(16.76 247.41) rotate(-90) scale(0.997 1)">(% of initial value)</text>
<line x1="31.50" y1="283.50" x2="31.50" y2="341.20" stroke="#a0a0a0" stroke-width="1.0"/>
<line x1="31.00" y1="341.50" x2="108.00" y2="341.50" stroke="#a0a0a0" stroke-width="1.0"/>
<line x1="29.50" y1="341.50" x2="31.00" y2="341.50" stroke="#a0a0a0" stroke-width="0.7"/>
<text x="27.80" y="343.34" font-size="6.2" text-anchor="end" fill="#333">0</text>
<line x1="29.50" y1="330.50" x2="31.00" y2="330.50" stroke="#a0a0a0" stroke-width="0.7"/>
<text x="27.80" y="332.30" font-size="6.2" text-anchor="end" fill="#333">20</text>
<line x1="29.50" y1="319.50" x2="31.00" y2="319.50" stroke="#a0a0a0" stroke-width="0.7"/>
<text x="27.80" y="321.26" font-size="6.2" text-anchor="end" fill="#333">40</text>
<line x1="29.50" y1="308.50" x2="31.00" y2="308.50" stroke="#a0a0a0" stroke-width="0.7"/>
<text x="27.80" y="310.22" font-size="6.2" text-anchor="end" fill="#333">60</text>
<line x1="29.50" y1="297.50" x2="31.00" y2="297.50" stroke="#a0a0a0" stroke-width="0.7"/>
<text x="27.80" y="299.18" font-size="6.2" text-anchor="end" fill="#333">80</text>
<line x1="29.50" y1="286.50" x2="31.00" y2="286.50" stroke="#a0a0a0" stroke-width="0.7"/>
<text x="27.80" y="288.14" font-size="6.2" text-anchor="end" fill="#333">100</text>
<line x1="31.50" y1="341.20" x2="31.50" y2="342.70" stroke="#a0a0a0" stroke-width="0.7"/>
<text x="31.60" y="351.15" font-size="6.8" text-anchor="middle" fill="#222">0</text>
<line x1="49.50" y1="341.20" x2="49.50" y2="342.70" stroke="#a0a0a0" stroke-width="0.7"/>
<text x="50.60" y="351.15" font-size="6.8" text-anchor="middle" fill="#222">25</text>
<line x1="68.50" y1="341.20" x2="68.50" y2="342.70" stroke="#a0a0a0" stroke-width="0.7"/>
<text x="69.10" y="351.15" font-size="6.8" text-anchor="middle" fill="#222">50</text>
<line x1="86.50" y1="341.20" x2="86.50" y2="342.70" stroke="#a0a0a0" stroke-width="0.7"/>
<text x="86.90" y="351.15" font-size="6.8" text-anchor="middle" fill="#222">75</text>
<line x1="105.50" y1="341.20" x2="105.50" y2="342.70" stroke="#a0a0a0" stroke-width="0.7"/>
<text x="105.40" y="351.15" font-size="6.8" text-anchor="middle" fill="#222">100</text>
<path d="M31.00,286.90 L83.00,286.90" stroke="#8a8a8a" stroke-width="1.0" fill="none" stroke-linejoin="round"/>
<path d="M31.00,286.00 L31.75,286.83 L32.49,287.65 L33.23,288.44 L33.98,289.21 L34.73,289.96 L35.47,290.68 L36.22,291.39 L36.96,292.07 L37.70,292.74 L38.45,293.38 L39.20,294.00 L39.94,294.60 L40.69,295.18 L41.43,295.74 L42.17,296.27 L42.92,296.79 L43.66,297.28 L44.41,297.75 L45.16,298.20 L45.90,298.63 L46.64,299.04 L47.39,299.42 L48.14,299.79 L48.88,300.13 L49.62,300.46 L50.37,300.76 L51.11,301.04 L51.86,301.30 L52.61,301.53 L53.35,301.75 L54.09,301.94 L54.84,302.12 L55.59,302.27 L56.33,302.40 L57.08,302.51 L57.82,302.60 L58.56,302.66 L59.31,302.71 L60.05,302.73 L60.80,302.74 L61.55,302.72 L62.29,302.68 L63.03,302.62 L63.78,302.54 L64.53,302.43 L65.27,302.31 L66.02,302.16 L66.76,301.99 L67.50,301.80 L68.25,301.59 L69.00,301.36 L69.74,301.11 L70.48,300.84 L71.23,300.54 L71.97,300.22 L72.72,299.89 L73.47,299.53 L74.21,299.15 L74.95,298.74 L75.70,298.32 L76.44,297.88 L77.19,297.41 L77.94,296.92 L78.68,296.41 L79.42,295.88 L80.17,295.33 L80.91,294.76 L81.66,294.17 L82.41,293.55 L83.15,292.92" stroke="#111" stroke-width="1.1" fill="none" stroke-linejoin="round"/>
<line x1="36.50" y1="295.38" x2="36.50" y2="280.48" stroke="#9a9a9a" stroke-width="0.6"/>
<line x1="36.06" y1="295.50" x2="37.86" y2="295.50" stroke="#9a9a9a" stroke-width="0.6"/>
<line x1="36.06" y1="280.50" x2="37.86" y2="280.50" stroke="#9a9a9a" stroke-width="0.6"/>
<line x1="48.50" y1="304.77" x2="48.50" y2="283.24" stroke="#9a9a9a" stroke-width="0.6"/>
<line x1="47.98" y1="304.50" x2="49.78" y2="304.50" stroke="#9a9a9a" stroke-width="0.6"/>
<line x1="47.98" y1="283.50" x2="49.78" y2="283.50" stroke="#9a9a9a" stroke-width="0.6"/>
<line x1="83.50" y1="297.59" x2="83.50" y2="289.86" stroke="#9a9a9a" stroke-width="0.6"/>
<line x1="82.25" y1="297.50" x2="84.05" y2="297.50" stroke="#9a9a9a" stroke-width="0.6"/>
<line x1="82.25" y1="289.50" x2="84.05" y2="289.50" stroke="#9a9a9a" stroke-width="0.6"/>
<rect x="29.00" y="284.55" width="4.0" height="4.0" fill="#9a9a9a"/>
<rect x="46.88" y="285.66" width="4.0" height="4.0" fill="#9a9a9a"/>
<rect x="55.82" y="284.28" width="4.0" height="4.0" fill="#9a9a9a"/>
<circle cx="33.98" cy="288.48" r="2.1" fill="#000"/>
<circle cx="36.96" cy="288.21" r="2.1" fill="#000"/>
<circle cx="48.88" cy="298.14" r="2.1" fill="#000"/>
<circle cx="57.82" cy="305.32" r="2.1" fill="#000"/>
<circle cx="83.15" cy="293.73" r="2.1" fill="#000"/>
<text font-size="10.217" fill="#1a1a1a" stroke="#1a1a1a" stroke-width="0.20" transform="translate(30.93 359.25) scale(1.001 1)">Hours After Epo</text>
<text font-size="7.166" font-weight="bold" fill="#000" stroke="#000" stroke-width="0.10" transform="translate(7.90 352.35) rotate(-90) scale(1.176 1)">FasL-positive cells</text>
<text font-size="6.952" fill="#333" stroke="#333" stroke-width="0.10" transform="translate(16.94 342.42) rotate(-90) scale(0.996 1)">(% of initial value)</text>
<line x1="156.50" y1="184.00" x2="156.50" y2="252.70" stroke="#a0a0a0" stroke-width="1.0"/>
<line x1="156.90" y1="252.50" x2="227.40" y2="252.50" stroke="#a0a0a0" stroke-width="1.0"/>
<line x1="155.40" y1="252.50" x2="156.90" y2="252.50" stroke="#a0a0a0" stroke-width="0.7"/>
<text x="153.90" y="254.36" font-size="4.8" text-anchor="end" fill="#444">0</text>
<line x1="155.40" y1="239.50" x2="156.90" y2="239.50" stroke="#a0a0a0" stroke-width="0.7"/>
<text x="153.90" y="240.76" font-size="4.8" text-anchor="end" fill="#444">70</text>
<line x1="155.40" y1="225.50" x2="156.90" y2="225.50" stroke="#a0a0a0" stroke-width="0.7"/>
<text x="153.90" y="227.16" font-size="4.8" text-anchor="end" fill="#444">140</text>
<line x1="155.40" y1="211.50" x2="156.90" y2="211.50" stroke="#a0a0a0" stroke-width="0.7"/>
<text x="153.90" y="213.56" font-size="4.8" text-anchor="end" fill="#444">210</text>
<line x1="155.40" y1="198.50" x2="156.90" y2="198.50" stroke="#a0a0a0" stroke-width="0.7"/>
<text x="153.90" y="199.96" font-size="4.8" text-anchor="end" fill="#444">280</text>
<line x1="155.40" y1="184.50" x2="156.90" y2="184.50" stroke="#a0a0a0" stroke-width="0.7"/>
<text x="153.90" y="186.36" font-size="4.8" text-anchor="end" fill="#444">350</text>
<line x1="156.50" y1="252.70" x2="156.50" y2="254.20" stroke="#a0a0a0" stroke-width="0.7"/>
<text x="156.90" y="262.95" font-size="6.8" text-anchor="middle" fill="#222">0</text>
<line x1="174.50" y1="252.70" x2="174.50" y2="254.20" stroke="#a0a0a0" stroke-width="0.7"/>
<text x="174.70" y="262.95" font-size="6.8" text-anchor="middle" fill="#222">25</text>
<line x1="191.50" y1="252.70" x2="191.50" y2="254.20" stroke="#a0a0a0" stroke-width="0.7"/>
<text x="192.10" y="262.95" font-size="6.8" text-anchor="middle" fill="#222">50</text>
<line x1="208.50" y1="252.70" x2="208.50" y2="254.20" stroke="#a0a0a0" stroke-width="0.7"/>
<text x="208.50" y="262.95" font-size="6.8" text-anchor="middle" fill="#222">75</text>
<line x1="225.50" y1="252.70" x2="225.50" y2="254.20" stroke="#a0a0a0" stroke-width="0.7"/>
<text x="225.60" y="262.95" font-size="6.8" text-anchor="middle" fill="#222">100</text>
<path d="M156.90,193.10 L174.00,206.20 L190.90,226.40 L207.00,227.50 L224.40,224.60" stroke="#111" stroke-width="1.0" fill="none" stroke-linejoin="round"/>
<circle cx="156.90" cy="192.60" r="2.1" fill="#000"/>
<circle cx="157.30" cy="193.80" r="2.1" fill="#000"/>
<circle cx="174.00" cy="203.80" r="2.1" fill="#000"/>
<circle cx="174.00" cy="208.50" r="2.1" fill="#000"/>
<circle cx="190.90" cy="223.40" r="2.1" fill="#000"/>
<circle cx="190.90" cy="228.80" r="2.1" fill="#000"/>
<circle cx="207.00" cy="224.10" r="2.1" fill="#000"/>
<circle cx="207.00" cy="230.10" r="2.1" fill="#000"/>
<circle cx="224.40" cy="223.40" r="2.1" fill="#000"/>
<circle cx="224.40" cy="225.80" r="2.1" fill="#000"/>
<text font-size="10.145" fill="#111" stroke="#111" stroke-width="0.20" transform="translate(159.22 192.00) scale(0.965 1)">ProE.</text>
<line x1="157.50" y1="271.00" x2="157.50" y2="340.00" stroke="#a0a0a0" stroke-width="1.0"/>
<line x1="157.00" y1="340.50" x2="227.50" y2="340.50" stroke="#a0a0a0" stroke-width="1.0"/>
<line x1="155.50" y1="340.50" x2="157.00" y2="340.50" stroke="#a0a0a0" stroke-width="0.7"/>
<text x="154.00" y="341.66" font-size="4.8" text-anchor="end" fill="#444">0</text>
<line x1="155.50" y1="326.50" x2="157.00" y2="326.50" stroke="#a0a0a0" stroke-width="0.7"/>
<text x="154.00" y="328.00" font-size="4.8" text-anchor="end" fill="#444">70</text>
<line x1="155.50" y1="312.50" x2="157.00" y2="312.50" stroke="#a0a0a0" stroke-width="0.7"/>
<text x="154.00" y="314.34" font-size="4.8" text-anchor="end" fill="#444">140</text>
<line x1="155.50" y1="299.50" x2="157.00" y2="299.50" stroke="#a0a0a0" stroke-width="0.7"/>
<text x="154.00" y="300.68" font-size="4.8" text-anchor="end" fill="#444">210</text>
<line x1="155.50" y1="285.50" x2="157.00" y2="285.50" stroke="#a0a0a0" stroke-width="0.7"/>
<text x="154.00" y="287.02" font-size="4.8" text-anchor="end" fill="#444">280</text>
<line x1="155.50" y1="271.50" x2="157.00" y2="271.50" stroke="#a0a0a0" stroke-width="0.7"/>
<text x="154.00" y="273.36" font-size="4.8" text-anchor="end" fill="#444">350</text>
<line x1="157.50" y1="340.00" x2="157.50" y2="341.50" stroke="#a0a0a0" stroke-width="0.7"/>
<text x="156.90" y="350.95" font-size="6.8" text-anchor="middle" fill="#222">0</text>
<line x1="174.50" y1="340.00" x2="174.50" y2="341.50" stroke="#a0a0a0" stroke-width="0.7"/>
<text x="175.10" y="350.95" font-size="6.8" text-anchor="middle" fill="#222">25</text>
<line x1="191.50" y1="340.00" x2="191.50" y2="341.50" stroke="#a0a0a0" stroke-width="0.7"/>
<text x="192.90" y="350.95" font-size="6.8" text-anchor="middle" fill="#222">50</text>
<line x1="208.50" y1="340.00" x2="208.50" y2="341.50" stroke="#a0a0a0" stroke-width="0.7"/>
<text x="210.60" y="350.95" font-size="6.8" text-anchor="middle" fill="#222">75</text>
<line x1="226.50" y1="340.00" x2="226.50" y2="341.50" stroke="#a0a0a0" stroke-width="0.7"/>
<text x="225.80" y="350.95" font-size="6.8" text-anchor="middle" fill="#222">100</text>
<path d="M157.00,284.50 L174.30,309.50 L191.30,314.00 L208.30,299.00 L225.60,294.00" stroke="#111" stroke-width="1.0" fill="none" stroke-linejoin="round"/>
<circle cx="157.00" cy="283.90" r="2.1" fill="#000"/>
<circle cx="157.00" cy="286.00" r="2.1" fill="#000"/>
<circle cx="174.30" cy="302.00" r="2.1" fill="#000"/>
<circle cx="174.30" cy="314.40" r="2.1" fill="#000"/>
<circle cx="191.30" cy="312.20" r="2.1" fill="#000"/>
<circle cx="191.30" cy="313.60" r="2.1" fill="#000"/>
<circle cx="208.30" cy="292.50" r="2.1" fill="#000"/>
<circle cx="208.30" cy="306.00" r="2.1" fill="#000"/>
<circle cx="225.60" cy="292.80" r="2.1" fill="#000"/>
<circle cx="225.60" cy="295.20" r="2.1" fill="#000"/>
<text font-size="10.058" fill="#111" stroke="#111" stroke-width="0.20" transform="translate(157.99 279.84) scale(0.940 1)">Ery.A</text>
<text font-size="9.783" fill="#1a1a1a" stroke="#1a1a1a" stroke-width="0.20" transform="translate(159.97 358.75) scale(0.991 1)">Hours After Epo</text>
<text font-size="7.380" font-weight="bold" fill="#000" stroke="#000" stroke-width="0.10" transform="translate(135.45 303.30) rotate(-90) scale(1.080 1)">Annexin V -binding</text>
<text font-size="6.752" fill="#4a4a4a" stroke="#4a4a4a" stroke-width="0.10" transform="translate(143.44 311.08) rotate(-90) scale(0.940 1)">(geometric mean fluorescence)</text>
<line x1="282.20" y1="196.00" x2="282.20" y2="254.00" stroke="#c2c2c2" stroke-width="1.0"/>
<line x1="282.20" y1="254.00" x2="341.50" y2="254.00" stroke="#c2c2c2" stroke-width="1.0"/>
<line x1="280.70" y1="196.90" x2="282.20" y2="196.90" stroke="#c2c2c2" stroke-width="0.7"/>
<text x="278.30" y="198.66" font-size="5.1" text-anchor="end" fill="#444">1.2</text>
<line x1="280.70" y1="206.42" x2="282.20" y2="206.42" stroke="#c2c2c2" stroke-width="0.7"/>
<text x="278.30" y="208.18" font-size="5.1" text-anchor="end" fill="#444">1</text>
<line x1="280.70" y1="215.93" x2="282.20" y2="215.93" stroke="#c2c2c2" stroke-width="0.7"/>
<text x="278.30" y="217.69" font-size="5.1" text-anchor="end" fill="#444">0.8</text>
<line x1="280.70" y1="225.45" x2="282.20" y2="225.45" stroke="#c2c2c2" stroke-width="0.7"/>
<text x="278.30" y="227.21" font-size="5.1" text-anchor="end" fill="#444">0.6</text>
<line x1="280.70" y1="234.97" x2="282.20" y2="234.97" stroke="#c2c2c2" stroke-width="0.7"/>
<text x="278.30" y="236.73" font-size="5.1" text-anchor="end" fill="#444">0.4</text>
<line x1="280.70" y1="244.48" x2="282.20" y2="244.48" stroke="#c2c2c2" stroke-width="0.7"/>
<text x="278.30" y="246.24" font-size="5.1" text-anchor="end" fill="#444">0.2</text>
<line x1="280.70" y1="254.00" x2="282.20" y2="254.00" stroke="#c2c2c2" stroke-width="0.7"/>
<text x="278.30" y="255.76" font-size="5.1" text-anchor="end" fill="#444">0</text>
<line x1="281.50" y1="254.00" x2="281.50" y2="255.30" stroke="#c2c2c2" stroke-width="0.6"/>
<text x="281.90" y="262.16" font-size="5.1" text-anchor="middle" fill="#444">0</text>
<line x1="296.50" y1="254.00" x2="296.50" y2="255.30" stroke="#c2c2c2" stroke-width="0.6"/>
<text x="296.80" y="262.16" font-size="5.1" text-anchor="middle" fill="#444">20</text>
<line x1="311.50" y1="254.00" x2="311.50" y2="255.30" stroke="#c2c2c2" stroke-width="0.6"/>
<text x="311.70" y="262.16" font-size="5.1" text-anchor="middle" fill="#444">40</text>
<line x1="326.50" y1="254.00" x2="326.50" y2="255.30" stroke="#c2c2c2" stroke-width="0.6"/>
<text x="326.60" y="262.16" font-size="5.1" text-anchor="middle" fill="#444">60</text>
<line x1="341.50" y1="254.00" x2="341.50" y2="255.30" stroke="#c2c2c2" stroke-width="0.6"/>
<text x="341.50" y="262.16" font-size="5.1" text-anchor="middle" fill="#444">80</text>
<path d="M281.90,206.50 L282.63,207.52 L283.36,208.53 L284.10,209.52 L284.83,210.50 L285.56,211.47 L286.29,212.42 L287.02,213.35 L287.76,214.28 L288.49,215.18 L289.22,216.08 L289.95,216.96 L290.68,217.82 L291.42,218.67 L292.15,219.51 L292.88,220.33 L293.61,221.14 L294.34,221.93 L295.08,222.71 L295.81,223.47 L296.54,224.22 L297.27,224.96 L298.00,225.68 L298.74,226.39 L299.47,227.08 L300.20,227.76 L300.93,228.43 L301.66,229.08 L302.40,229.71 L303.13,230.34 L303.86,230.94 L304.59,231.54 L305.32,232.11 L306.06,232.68 L306.79,233.23 L307.52,233.77 L308.25,234.29 L308.98,234.79 L309.72,235.29 L310.45,235.77 L311.18,236.23 L311.91,236.68 L312.64,237.12 L313.38,237.54 L314.11,237.95 L314.84,238.34 L315.57,238.72 L316.30,239.08 L317.04,239.43 L317.77,239.77 L318.50,240.09 L319.23,240.40 L319.96,240.69 L320.70,240.97 L321.43,241.23 L322.16,241.48 L322.89,241.72 L323.62,241.94 L324.36,242.15 L325.09,242.34 L325.82,242.52 L326.55,242.69 L327.28,242.84 L328.02,242.97 L328.75,243.09 L329.48,243.20 L330.21,243.29 L330.94,243.37 L331.68,243.44 L332.41,243.49 L333.14,243.52 L333.87,243.54 L334.60,243.55" stroke="#222" stroke-width="1.05" fill="none" stroke-linejoin="round"/>
<line x1="316.50" y1="226.10" x2="316.50" y2="239.90" stroke="#9a9a9a" stroke-width="0.6"/>
<line x1="316.00" y1="226.50" x2="317.80" y2="226.50" stroke="#9a9a9a" stroke-width="0.6"/>
<line x1="316.00" y1="239.50" x2="317.80" y2="239.50" stroke="#9a9a9a" stroke-width="0.6"/>
<circle cx="281.90" cy="206.40" r="1.85" fill="#000"/>
<circle cx="299.30" cy="235.70" r="1.85" fill="#000"/>
<circle cx="316.90" cy="232.50" r="1.85" fill="#000"/>
<circle cx="334.70" cy="245.60" r="1.85" fill="#000"/>
<text font-size="9.420" font-weight="bold" fill="#000" stroke="#000" stroke-width="0.20" transform="translate(292.46 197.80) scale(1.045 1)">Fas</text>
<line x1="368.90" y1="198.30" x2="368.90" y2="252.40" stroke="#c2c2c2" stroke-width="1.0"/>
<line x1="368.90" y1="252.40" x2="428.50" y2="252.40" stroke="#c2c2c2" stroke-width="1.0"/>
<line x1="367.40" y1="199.20" x2="368.90" y2="199.20" stroke="#c2c2c2" stroke-width="0.7"/>
<text x="365.00" y="200.96" font-size="5.1" text-anchor="end" fill="#444">1.2</text>
<line x1="367.40" y1="208.07" x2="368.90" y2="208.07" stroke="#c2c2c2" stroke-width="0.7"/>
<text x="365.00" y="209.83" font-size="5.1" text-anchor="end" fill="#444">1</text>
<line x1="367.40" y1="216.93" x2="368.90" y2="216.93" stroke="#c2c2c2" stroke-width="0.7"/>
<text x="365.00" y="218.69" font-size="5.1" text-anchor="end" fill="#444">0.8</text>
<line x1="367.40" y1="225.80" x2="368.90" y2="225.80" stroke="#c2c2c2" stroke-width="0.7"/>
<text x="365.00" y="227.56" font-size="5.1" text-anchor="end" fill="#444">0.6</text>
<line x1="367.40" y1="234.67" x2="368.90" y2="234.67" stroke="#c2c2c2" stroke-width="0.7"/>
<text x="365.00" y="236.43" font-size="5.1" text-anchor="end" fill="#444">0.4</text>
<line x1="367.40" y1="243.53" x2="368.90" y2="243.53" stroke="#c2c2c2" stroke-width="0.7"/>
<text x="365.00" y="245.29" font-size="5.1" text-anchor="end" fill="#444">0.2</text>
<line x1="367.40" y1="252.40" x2="368.90" y2="252.40" stroke="#c2c2c2" stroke-width="0.7"/>
<text x="365.00" y="254.16" font-size="5.1" text-anchor="end" fill="#444">0</text>
<line x1="368.50" y1="252.40" x2="368.50" y2="253.70" stroke="#c2c2c2" stroke-width="0.6"/>
<text x="368.70" y="261.06" font-size="5.1" text-anchor="middle" fill="#444">0</text>
<line x1="383.50" y1="252.40" x2="383.50" y2="253.70" stroke="#c2c2c2" stroke-width="0.6"/>
<text x="383.60" y="261.06" font-size="5.1" text-anchor="middle" fill="#444">20</text>
<line x1="398.50" y1="252.40" x2="398.50" y2="253.70" stroke="#c2c2c2" stroke-width="0.6"/>
<text x="398.50" y="261.06" font-size="5.1" text-anchor="middle" fill="#444">40</text>
<line x1="413.50" y1="252.40" x2="413.50" y2="253.70" stroke="#c2c2c2" stroke-width="0.6"/>
<text x="413.40" y="261.06" font-size="5.1" text-anchor="middle" fill="#444">60</text>
<line x1="428.50" y1="252.40" x2="428.50" y2="253.70" stroke="#c2c2c2" stroke-width="0.6"/>
<text x="428.30" y="261.06" font-size="5.1" text-anchor="middle" fill="#444">80</text>
<path d="M368.70,207.80 L369.45,208.09 L370.21,208.39 L370.96,208.69 L371.72,208.99 L372.47,209.29 L373.23,209.60 L373.99,209.92 L374.74,210.23 L375.50,210.55 L376.25,210.88 L377.00,211.20 L377.76,211.54 L378.51,211.87 L379.27,212.21 L380.02,212.55 L380.78,212.90 L381.53,213.24 L382.29,213.60 L383.05,213.95 L383.80,214.31 L384.56,214.67 L385.31,215.04 L386.06,215.41 L386.82,215.79 L387.57,216.16 L388.33,216.54 L389.08,216.93 L389.84,217.32 L390.59,217.71 L391.35,218.10 L392.11,218.50 L392.86,218.90 L393.62,219.31 L394.37,219.72 L395.12,220.13 L395.88,220.55 L396.63,220.97 L397.39,221.39 L398.14,221.82 L398.90,222.25 L399.65,222.68 L400.41,223.12 L401.16,223.56 L401.92,224.01 L402.68,224.46 L403.43,224.91 L404.19,225.37 L404.94,225.83 L405.69,226.29 L406.45,226.75 L407.20,227.23 L407.96,227.70 L408.71,228.18 L409.47,228.66 L410.22,229.14 L410.98,229.63 L411.74,230.12 L412.49,230.62 L413.25,231.11 L414.00,231.62 L414.75,232.12 L415.51,232.63 L416.26,233.14 L417.02,233.66 L417.77,234.18 L418.53,234.70 L419.28,235.23 L420.04,235.76 L420.79,236.30 L421.55,236.83 L422.31,237.38 L423.06,237.92" stroke="#222" stroke-width="1.05" fill="none" stroke-linejoin="round"/>
<line x1="387.50" y1="223.90" x2="387.50" y2="235.70" stroke="#9a9a9a" stroke-width="0.6"/>
<line x1="386.10" y1="223.50" x2="387.90" y2="223.50" stroke="#9a9a9a" stroke-width="0.6"/>
<line x1="386.10" y1="235.50" x2="387.90" y2="235.50" stroke="#9a9a9a" stroke-width="0.6"/>
<line x1="404.50" y1="201.50" x2="404.50" y2="222.30" stroke="#9a9a9a" stroke-width="0.6"/>
<line x1="403.90" y1="201.50" x2="405.70" y2="201.50" stroke="#9a9a9a" stroke-width="0.6"/>
<line x1="403.90" y1="222.50" x2="405.70" y2="222.50" stroke="#9a9a9a" stroke-width="0.6"/>
<circle cx="368.70" cy="207.40" r="1.85" fill="#000"/>
<circle cx="387.00" cy="229.60" r="1.85" fill="#000"/>
<circle cx="404.80" cy="212.00" r="1.85" fill="#000"/>
<circle cx="422.90" cy="241.70" r="1.85" fill="#000"/>
<text font-size="9.565" font-weight="bold" fill="#000" stroke="#000" stroke-width="0.20" transform="translate(375.58 197.10) scale(1.003 1)">FasL</text>
<line x1="454.20" y1="196.00" x2="454.20" y2="250.80" stroke="#c2c2c2" stroke-width="1.0"/>
<line x1="454.20" y1="250.80" x2="514.00" y2="250.80" stroke="#c2c2c2" stroke-width="1.0"/>
<line x1="452.70" y1="196.90" x2="454.20" y2="196.90" stroke="#c2c2c2" stroke-width="0.7"/>
<text x="450.30" y="198.66" font-size="5.1" text-anchor="end" fill="#444">1.2</text>
<line x1="452.70" y1="205.88" x2="454.20" y2="205.88" stroke="#c2c2c2" stroke-width="0.7"/>
<text x="450.30" y="207.64" font-size="5.1" text-anchor="end" fill="#444">1</text>
<line x1="452.70" y1="214.87" x2="454.20" y2="214.87" stroke="#c2c2c2" stroke-width="0.7"/>
<text x="450.30" y="216.63" font-size="5.1" text-anchor="end" fill="#444">0.8</text>
<line x1="452.70" y1="223.85" x2="454.20" y2="223.85" stroke="#c2c2c2" stroke-width="0.7"/>
<text x="450.30" y="225.61" font-size="5.1" text-anchor="end" fill="#444">0.6</text>
<line x1="452.70" y1="232.83" x2="454.20" y2="232.83" stroke="#c2c2c2" stroke-width="0.7"/>
<text x="450.30" y="234.59" font-size="5.1" text-anchor="end" fill="#444">0.4</text>
<line x1="452.70" y1="241.82" x2="454.20" y2="241.82" stroke="#c2c2c2" stroke-width="0.7"/>
<text x="450.30" y="243.58" font-size="5.1" text-anchor="end" fill="#444">0.2</text>
<line x1="452.70" y1="250.80" x2="454.20" y2="250.80" stroke="#c2c2c2" stroke-width="0.7"/>
<text x="450.30" y="252.56" font-size="5.1" text-anchor="end" fill="#444">0</text>
<line x1="454.50" y1="250.80" x2="454.50" y2="252.10" stroke="#c2c2c2" stroke-width="0.6"/>
<text x="454.20" y="259.86" font-size="5.1" text-anchor="middle" fill="#444">0</text>
<line x1="469.50" y1="250.80" x2="469.50" y2="252.10" stroke="#c2c2c2" stroke-width="0.6"/>
<text x="469.10" y="259.86" font-size="5.1" text-anchor="middle" fill="#444">20</text>
<line x1="484.50" y1="250.80" x2="484.50" y2="252.10" stroke="#c2c2c2" stroke-width="0.6"/>
<text x="484.00" y="259.86" font-size="5.1" text-anchor="middle" fill="#444">40</text>
<line x1="498.50" y1="250.80" x2="498.50" y2="252.10" stroke="#c2c2c2" stroke-width="0.6"/>
<text x="498.90" y="259.86" font-size="5.1" text-anchor="middle" fill="#444">60</text>
<line x1="513.50" y1="250.80" x2="513.50" y2="252.10" stroke="#c2c2c2" stroke-width="0.6"/>
<text x="513.80" y="259.86" font-size="5.1" text-anchor="middle" fill="#444">80</text>
<path d="M454.20,205.60 L454.95,206.69 L455.71,207.76 L456.46,208.80 L457.22,209.83 L457.97,210.84 L458.73,211.83 L459.49,212.80 L460.24,213.75 L461.00,214.69 L461.75,215.60 L462.50,216.49 L463.26,217.36 L464.01,218.21 L464.77,219.05 L465.52,219.86 L466.28,220.65 L467.03,221.43 L467.79,222.18 L468.55,222.92 L469.30,223.63 L470.06,224.33 L470.81,225.01 L471.56,225.66 L472.32,226.30 L473.07,226.92 L473.83,227.52 L474.58,228.09 L475.34,228.65 L476.09,229.19 L476.85,229.71 L477.61,230.21 L478.36,230.69 L479.12,231.15 L479.87,231.59 L480.62,232.01 L481.38,232.42 L482.13,232.80 L482.89,233.16 L483.64,233.50 L484.40,233.83 L485.15,234.13 L485.91,234.42 L486.66,234.68 L487.42,234.92 L488.18,235.15 L488.93,235.36 L489.69,235.54 L490.44,235.71 L491.19,235.86 L491.95,235.98 L492.70,236.09 L493.46,236.18 L494.21,236.25 L494.97,236.30 L495.72,236.33 L496.48,236.34 L497.24,236.33 L497.99,236.29 L498.75,236.24 L499.50,236.17 L500.25,236.08 L501.01,235.96 L501.76,235.83 L502.52,235.67 L503.27,235.49 L504.03,235.30 L504.78,235.08 L505.54,234.84 L506.29,234.58 L507.05,234.30 L507.81,234.00 L508.56,233.67" stroke="#222" stroke-width="1.05" fill="none" stroke-linejoin="round"/>
<line x1="490.50" y1="215.90" x2="490.50" y2="238.00" stroke="#9a9a9a" stroke-width="0.6"/>
<line x1="489.40" y1="215.50" x2="491.20" y2="215.50" stroke="#9a9a9a" stroke-width="0.6"/>
<line x1="489.40" y1="238.50" x2="491.20" y2="238.50" stroke="#9a9a9a" stroke-width="0.6"/>
<line x1="508.50" y1="226.10" x2="508.50" y2="246.30" stroke="#9a9a9a" stroke-width="0.6"/>
<line x1="507.70" y1="226.50" x2="509.50" y2="226.50" stroke="#9a9a9a" stroke-width="0.6"/>
<line x1="507.70" y1="246.50" x2="509.50" y2="246.50" stroke="#9a9a9a" stroke-width="0.6"/>
<circle cx="454.20" cy="205.60" r="1.85" fill="#000"/>
<circle cx="472.50" cy="236.00" r="1.85" fill="#000"/>
<circle cx="490.30" cy="227.30" r="1.85" fill="#000"/>
<circle cx="508.60" cy="236.40" r="1.85" fill="#000"/>
<text font-size="9.565" font-weight="bold" fill="#000" stroke="#000" stroke-width="0.20" transform="translate(461.38 197.10) scale(0.998 1)">FasB</text>
<text font-size="7.101" font-weight="bold" fill="#000" stroke="#000" stroke-width="0.10" transform="translate(258.30 234.33) rotate(-90) scale(1.159 1)">mRNA</text>
<text font-size="7.594" fill="#222" stroke="#222" stroke-width="0.20" transform="translate(267.61 246.20) rotate(-90) scale(1.088 1)">(fold change)</text>
<line x1="281.40" y1="268.90" x2="281.40" y2="319.80" stroke="#c2c2c2" stroke-width="1.0"/>
<line x1="281.40" y1="319.80" x2="345.50" y2="319.80" stroke="#c2c2c2" stroke-width="1.0"/>
<line x1="279.90" y1="269.30" x2="281.40" y2="269.30" stroke="#c2c2c2" stroke-width="0.7"/>
<text x="277.50" y="271.06" font-size="5.1" text-anchor="end" fill="#444">4</text>
<line x1="279.90" y1="281.93" x2="281.40" y2="281.93" stroke="#c2c2c2" stroke-width="0.7"/>
<text x="277.50" y="283.68" font-size="5.1" text-anchor="end" fill="#444">3</text>
<line x1="279.90" y1="294.55" x2="281.40" y2="294.55" stroke="#c2c2c2" stroke-width="0.7"/>
<text x="277.50" y="296.31" font-size="5.1" text-anchor="end" fill="#444">2</text>
<line x1="279.90" y1="307.18" x2="281.40" y2="307.18" stroke="#c2c2c2" stroke-width="0.7"/>
<text x="277.50" y="308.93" font-size="5.1" text-anchor="end" fill="#444">1</text>
<line x1="279.90" y1="319.80" x2="281.40" y2="319.80" stroke="#c2c2c2" stroke-width="0.7"/>
<text x="277.50" y="321.56" font-size="5.1" text-anchor="end" fill="#444">0</text>
<line x1="281.50" y1="319.80" x2="281.50" y2="321.10" stroke="#c2c2c2" stroke-width="0.6"/>
<text x="281.40" y="327.76" font-size="5.1" text-anchor="middle" fill="#444">0</text>
<line x1="295.50" y1="319.80" x2="295.50" y2="321.10" stroke="#c2c2c2" stroke-width="0.6"/>
<text x="295.80" y="327.76" font-size="5.1" text-anchor="middle" fill="#444">20</text>
<line x1="311.50" y1="319.80" x2="311.50" y2="321.10" stroke="#c2c2c2" stroke-width="0.6"/>
<text x="311.50" y="327.76" font-size="5.1" text-anchor="middle" fill="#444">40</text>
<line x1="327.50" y1="319.80" x2="327.50" y2="321.10" stroke="#c2c2c2" stroke-width="0.6"/>
<text x="327.60" y="327.76" font-size="5.1" text-anchor="middle" fill="#444">60</text>
<line x1="344.50" y1="319.80" x2="344.50" y2="321.10" stroke="#c2c2c2" stroke-width="0.6"/>
<text x="344.00" y="327.76" font-size="5.1" text-anchor="middle" fill="#444">80</text>
<path d="M281.40,319.80 L282.20,319.26 L283.00,318.73 L283.80,318.19 L284.60,317.66 L285.40,317.14 L286.20,316.61 L287.00,316.09 L287.80,315.58 L288.60,315.06 L289.40,314.55 L290.20,314.04 L291.00,313.54 L291.80,313.03 L292.60,312.53 L293.40,312.04 L294.20,311.54 L295.00,311.05 L295.80,310.57 L296.60,310.08 L297.40,309.60 L298.20,309.12 L299.00,308.64 L299.80,308.17 L300.60,307.70 L301.40,307.24 L302.20,306.77 L303.00,306.31 L303.80,305.85 L304.60,305.40 L305.40,304.95 L306.20,304.50 L307.00,304.05 L307.80,303.61 L308.60,303.17 L309.40,302.74 L310.20,302.30 L311.00,301.87 L311.80,301.44 L312.60,301.02 L313.40,300.60 L314.20,300.18 L315.00,299.76 L315.80,299.35 L316.60,298.94 L317.40,298.53 L318.20,298.13 L319.00,297.73 L319.80,297.33 L320.60,296.94 L321.40,296.55 L322.20,296.16 L323.00,295.77 L323.80,295.39 L324.60,295.01 L325.40,294.63 L326.20,294.26 L327.00,293.89 L327.80,293.52 L328.60,293.16 L329.40,292.80 L330.20,292.44 L331.00,292.08 L331.80,291.73 L332.60,291.38 L333.40,291.03 L334.20,290.69 L335.00,290.35 L335.80,290.01 L336.60,289.68 L337.40,289.34 L338.20,289.02 L339.00,288.69" stroke="#3a3a3a" stroke-width="1.0" fill="none" stroke-linejoin="round"/>
<line x1="300.50" y1="297.00" x2="300.50" y2="306.00" stroke="#999" stroke-width="0.6"/>
<line x1="299.80" y1="297.50" x2="301.40" y2="297.50" stroke="#999" stroke-width="0.6"/>
<line x1="299.80" y1="306.50" x2="301.40" y2="306.50" stroke="#999" stroke-width="0.6"/>
<line x1="319.50" y1="291.70" x2="319.50" y2="298.60" stroke="#999" stroke-width="0.6"/>
<line x1="319.00" y1="291.50" x2="320.60" y2="291.50" stroke="#999" stroke-width="0.6"/>
<line x1="319.00" y1="298.50" x2="320.60" y2="298.50" stroke="#999" stroke-width="0.6"/>
<line x1="339.50" y1="274.60" x2="339.50" y2="284.90" stroke="#999" stroke-width="0.6"/>
<line x1="338.80" y1="274.50" x2="340.40" y2="274.50" stroke="#999" stroke-width="0.6"/>
<line x1="338.80" y1="284.50" x2="340.40" y2="284.50" stroke="#999" stroke-width="0.6"/>
<ellipse cx="300.60" cy="299.00" rx="1.35" ry="1.85" fill="none" stroke="#444" stroke-width="0.6"/>
<ellipse cx="300.60" cy="304.30" rx="1.35" ry="1.85" fill="none" stroke="#444" stroke-width="0.6"/>
<ellipse cx="319.80" cy="294.00" rx="1.35" ry="1.85" fill="none" stroke="#444" stroke-width="0.6"/>
<ellipse cx="319.80" cy="297.40" rx="1.35" ry="1.85" fill="none" stroke="#444" stroke-width="0.6"/>
<ellipse cx="319.80" cy="303.10" rx="1.35" ry="1.85" fill="none" stroke="#444" stroke-width="0.6"/>
<ellipse cx="319.80" cy="316.90" rx="1.35" ry="1.85" fill="none" stroke="#444" stroke-width="0.6"/>
<ellipse cx="339.60" cy="278.50" rx="1.35" ry="1.85" fill="none" stroke="#444" stroke-width="0.6"/>
<ellipse cx="339.60" cy="287.60" rx="1.35" ry="1.85" fill="none" stroke="#444" stroke-width="0.6"/>
<ellipse cx="339.60" cy="294.00" rx="1.35" ry="1.85" fill="none" stroke="#444" stroke-width="0.6"/>
<text font-size="8.261" fill="#1a1a1a" stroke="#1a1a1a" stroke-width="0.20" transform="translate(284.33 337.70) scale(1.012 1)">Hours After Epo</text>
<text font-size="7.606" font-weight="bold" fill="#000" stroke="#000" stroke-width="0.20" transform="translate(260.92 305.19) rotate(-90) scale(0.943 1)">ΔΔCT</text>
<text font-size="7.380" fill="#222" stroke="#222" stroke-width="0.10" transform="translate(269.75 317.50) rotate(-90) scale(1.132 1)">(Epo-Saline)</text>
<line x1="368.30" y1="271.10" x2="368.30" y2="323.70" stroke="#c2c2c2" stroke-width="1.0"/>
<line x1="368.30" y1="310.50" x2="431.60" y2="310.50" stroke="#c2c2c2" stroke-width="1.0"/>
<line x1="366.80" y1="271.60" x2="368.30" y2="271.60" stroke="#c2c2c2" stroke-width="0.7"/>
<text x="364.40" y="273.36" font-size="5.1" text-anchor="end" fill="#444">3</text>
<line x1="366.80" y1="284.62" x2="368.30" y2="284.62" stroke="#c2c2c2" stroke-width="0.7"/>
<text x="364.40" y="286.38" font-size="5.1" text-anchor="end" fill="#444">2</text>
<line x1="366.80" y1="297.65" x2="368.30" y2="297.65" stroke="#c2c2c2" stroke-width="0.7"/>
<text x="364.40" y="299.41" font-size="5.1" text-anchor="end" fill="#444">1</text>
<line x1="366.80" y1="310.68" x2="368.30" y2="310.68" stroke="#c2c2c2" stroke-width="0.7"/>
<text x="364.40" y="312.43" font-size="5.1" text-anchor="end" fill="#444">0</text>
<line x1="366.80" y1="323.70" x2="368.30" y2="323.70" stroke="#c2c2c2" stroke-width="0.7"/>
<text x="364.40" y="325.46" font-size="5.1" text-anchor="end" fill="#444">-1</text>
<line x1="368.50" y1="310.50" x2="368.50" y2="311.80" stroke="#c2c2c2" stroke-width="0.6"/>
<line x1="384.50" y1="310.50" x2="384.50" y2="311.80" stroke="#c2c2c2" stroke-width="0.6"/>
<text x="384.30" y="318.66" font-size="5.1" text-anchor="middle" fill="#444">20</text>
<line x1="399.50" y1="310.50" x2="399.50" y2="311.80" stroke="#c2c2c2" stroke-width="0.6"/>
<text x="399.60" y="318.66" font-size="5.1" text-anchor="middle" fill="#444">40</text>
<line x1="415.50" y1="310.50" x2="415.50" y2="311.80" stroke="#c2c2c2" stroke-width="0.6"/>
<text x="415.60" y="318.66" font-size="5.1" text-anchor="middle" fill="#444">60</text>
<line x1="431.50" y1="310.50" x2="431.50" y2="311.80" stroke="#c2c2c2" stroke-width="0.6"/>
<text x="431.40" y="318.66" font-size="5.1" text-anchor="middle" fill="#444">80</text>
<path d="M368.30,310.50 L369.10,310.29 L369.90,310.08 L370.70,309.86 L371.50,309.64 L372.30,309.41 L373.10,309.18 L373.90,308.95 L374.70,308.71 L375.50,308.47 L376.30,308.22 L377.10,307.97 L377.90,307.72 L378.70,307.46 L379.50,307.20 L380.30,306.93 L381.10,306.66 L381.90,306.38 L382.70,306.11 L383.50,305.82 L384.30,305.54 L385.10,305.24 L385.90,304.95 L386.70,304.65 L387.50,304.35 L388.30,304.04 L389.10,303.73 L389.90,303.41 L390.70,303.09 L391.50,302.77 L392.30,302.44 L393.10,302.11 L393.90,301.77 L394.70,301.43 L395.50,301.09 L396.30,300.74 L397.10,300.39 L397.90,300.03 L398.70,299.67 L399.50,299.30 L400.30,298.94 L401.10,298.56 L401.90,298.19 L402.70,297.80 L403.50,297.42 L404.30,297.03 L405.10,296.64 L405.90,296.24 L406.70,295.84 L407.50,295.43 L408.30,295.02 L409.10,294.61 L409.90,294.19 L410.70,293.77 L411.50,293.34 L412.30,292.91 L413.10,292.48 L413.90,292.04 L414.70,291.60 L415.50,291.15 L416.30,290.70 L417.10,290.25 L417.90,289.79 L418.70,289.32 L419.50,288.86 L420.30,288.39 L421.10,287.91 L421.90,287.43 L422.70,286.95 L423.50,286.46 L424.30,285.97 L425.10,285.47 L425.90,284.98" stroke="#3a3a3a" stroke-width="1.0" fill="none" stroke-linejoin="round"/>
<line x1="387.50" y1="296.00" x2="387.50" y2="302.00" stroke="#999" stroke-width="0.6"/>
<line x1="386.70" y1="296.50" x2="388.30" y2="296.50" stroke="#999" stroke-width="0.6"/>
<line x1="386.70" y1="302.50" x2="388.30" y2="302.50" stroke="#999" stroke-width="0.6"/>
<line x1="406.50" y1="287.20" x2="406.50" y2="291.70" stroke="#999" stroke-width="0.6"/>
<line x1="405.60" y1="287.50" x2="407.20" y2="287.50" stroke="#999" stroke-width="0.6"/>
<line x1="405.60" y1="291.50" x2="407.20" y2="291.50" stroke="#999" stroke-width="0.6"/>
<line x1="425.50" y1="282.60" x2="425.50" y2="291.70" stroke="#999" stroke-width="0.6"/>
<line x1="425.10" y1="282.50" x2="426.70" y2="282.50" stroke="#999" stroke-width="0.6"/>
<line x1="425.10" y1="291.50" x2="426.70" y2="291.50" stroke="#999" stroke-width="0.6"/>
<ellipse cx="387.50" cy="291.70" rx="1.35" ry="1.85" fill="none" stroke="#444" stroke-width="0.6"/>
<ellipse cx="387.50" cy="302.00" rx="1.35" ry="1.85" fill="none" stroke="#444" stroke-width="0.6"/>
<ellipse cx="406.40" cy="289.40" rx="1.35" ry="1.85" fill="none" stroke="#444" stroke-width="0.6"/>
<ellipse cx="406.40" cy="304.70" rx="1.35" ry="1.85" fill="none" stroke="#444" stroke-width="0.6"/>
<ellipse cx="406.40" cy="315.00" rx="1.35" ry="1.85" fill="none" stroke="#444" stroke-width="0.6"/>
<ellipse cx="425.90" cy="277.50" rx="1.35" ry="1.85" fill="none" stroke="#444" stroke-width="0.6"/>
<ellipse cx="425.90" cy="282.60" rx="1.35" ry="1.85" fill="none" stroke="#444" stroke-width="0.6"/>
<ellipse cx="425.90" cy="285.50" rx="1.35" ry="1.85" fill="none" stroke="#444" stroke-width="0.6"/>
<text font-size="8.921" fill="#1a1a1a" stroke="#1a1a1a" stroke-width="0.20" transform="translate(372.13 338.18) scale(0.940 1)">Hours After Epo</text>
<line x1="453.30" y1="273.00" x2="453.30" y2="326.50" stroke="#c2c2c2" stroke-width="1.0"/>
<line x1="453.30" y1="316.90" x2="516.60" y2="316.90" stroke="#c2c2c2" stroke-width="1.0"/>
<line x1="451.80" y1="273.40" x2="453.30" y2="273.40" stroke="#c2c2c2" stroke-width="0.7"/>
<text x="449.40" y="275.16" font-size="5.1" text-anchor="end" fill="#444">5</text>
<line x1="451.80" y1="282.17" x2="453.30" y2="282.17" stroke="#c2c2c2" stroke-width="0.7"/>
<text x="449.40" y="283.93" font-size="5.1" text-anchor="end" fill="#444">4</text>
<line x1="451.80" y1="290.93" x2="453.30" y2="290.93" stroke="#c2c2c2" stroke-width="0.7"/>
<text x="449.40" y="292.69" font-size="5.1" text-anchor="end" fill="#444">3</text>
<line x1="451.80" y1="299.70" x2="453.30" y2="299.70" stroke="#c2c2c2" stroke-width="0.7"/>
<text x="449.40" y="301.46" font-size="5.1" text-anchor="end" fill="#444">2</text>
<line x1="451.80" y1="308.47" x2="453.30" y2="308.47" stroke="#c2c2c2" stroke-width="0.7"/>
<text x="449.40" y="310.23" font-size="5.1" text-anchor="end" fill="#444">1</text>
<line x1="451.80" y1="317.23" x2="453.30" y2="317.23" stroke="#c2c2c2" stroke-width="0.7"/>
<text x="449.40" y="318.99" font-size="5.1" text-anchor="end" fill="#444">0</text>
<line x1="451.80" y1="326.00" x2="453.30" y2="326.00" stroke="#c2c2c2" stroke-width="0.7"/>
<text x="449.40" y="327.76" font-size="5.1" text-anchor="end" fill="#444">-1</text>
<line x1="453.50" y1="316.90" x2="453.50" y2="318.20" stroke="#c2c2c2" stroke-width="0.6"/>
<line x1="469.50" y1="316.90" x2="469.50" y2="318.20" stroke="#c2c2c2" stroke-width="0.6"/>
<text x="469.30" y="325.06" font-size="5.1" text-anchor="middle" fill="#444">20</text>
<line x1="484.50" y1="316.90" x2="484.50" y2="318.20" stroke="#c2c2c2" stroke-width="0.6"/>
<text x="484.60" y="325.06" font-size="5.1" text-anchor="middle" fill="#444">40</text>
<line x1="500.50" y1="316.90" x2="500.50" y2="318.20" stroke="#c2c2c2" stroke-width="0.6"/>
<text x="500.60" y="325.06" font-size="5.1" text-anchor="middle" fill="#444">60</text>
<line x1="516.50" y1="316.90" x2="516.50" y2="318.20" stroke="#c2c2c2" stroke-width="0.6"/>
<text x="516.10" y="325.06" font-size="5.1" text-anchor="middle" fill="#444">80</text>
<path d="M453.30,316.90 L454.09,316.34 L454.88,315.79 L455.67,315.25 L456.46,314.71 L457.25,314.18 L458.04,313.66 L458.83,313.15 L459.62,312.65 L460.41,312.15 L461.20,311.66 L461.99,311.18 L462.78,310.71 L463.57,310.24 L464.36,309.78 L465.15,309.33 L465.94,308.89 L466.73,308.46 L467.52,308.03 L468.31,307.61 L469.10,307.20 L469.89,306.80 L470.68,306.40 L471.47,306.02 L472.26,305.64 L473.05,305.27 L473.84,304.90 L474.63,304.55 L475.42,304.20 L476.21,303.86 L477.00,303.53 L477.79,303.20 L478.58,302.89 L479.37,302.58 L480.16,302.28 L480.95,301.98 L481.74,301.70 L482.53,301.42 L483.32,301.15 L484.11,300.89 L484.90,300.63 L485.69,300.39 L486.48,300.15 L487.27,299.92 L488.06,299.69 L488.85,299.48 L489.64,299.27 L490.43,299.07 L491.22,298.88 L492.01,298.70 L492.80,298.52 L493.59,298.35 L494.38,298.19 L495.17,298.04 L495.96,297.90 L496.75,297.76 L497.54,297.63 L498.33,297.51 L499.12,297.40 L499.91,297.29 L500.70,297.19 L501.49,297.10 L502.28,297.02 L503.07,296.95 L503.86,296.88 L504.65,296.82 L505.44,296.77 L506.23,296.73 L507.02,296.69 L507.81,296.66 L508.60,296.64 L509.39,296.63 L510.18,296.63" stroke="#3a3a3a" stroke-width="1.0" fill="none" stroke-linejoin="round"/>
<line x1="472.50" y1="297.40" x2="472.50" y2="307.70" stroke="#999" stroke-width="0.6"/>
<line x1="471.20" y1="297.50" x2="472.80" y2="297.50" stroke="#999" stroke-width="0.6"/>
<line x1="471.20" y1="307.50" x2="472.80" y2="307.50" stroke="#999" stroke-width="0.6"/>
<line x1="491.50" y1="283.70" x2="491.50" y2="289.40" stroke="#999" stroke-width="0.6"/>
<line x1="490.60" y1="283.50" x2="492.20" y2="283.50" stroke="#999" stroke-width="0.6"/>
<line x1="490.60" y1="289.50" x2="492.20" y2="289.50" stroke="#999" stroke-width="0.6"/>
<line x1="491.50" y1="298.60" x2="491.50" y2="312.30" stroke="#999" stroke-width="0.6"/>
<line x1="490.60" y1="298.50" x2="492.20" y2="298.50" stroke="#999" stroke-width="0.6"/>
<line x1="490.60" y1="312.50" x2="492.20" y2="312.50" stroke="#999" stroke-width="0.6"/>
<line x1="510.50" y1="280.30" x2="510.50" y2="283.70" stroke="#999" stroke-width="0.6"/>
<line x1="509.60" y1="280.50" x2="511.20" y2="280.50" stroke="#999" stroke-width="0.6"/>
<line x1="509.60" y1="283.50" x2="511.20" y2="283.50" stroke="#999" stroke-width="0.6"/>
<line x1="510.50" y1="287.10" x2="510.50" y2="294.00" stroke="#999" stroke-width="0.6"/>
<line x1="509.60" y1="287.50" x2="511.20" y2="287.50" stroke="#999" stroke-width="0.6"/>
<line x1="509.60" y1="294.50" x2="511.20" y2="294.50" stroke="#999" stroke-width="0.6"/>
<line x1="510.50" y1="305.40" x2="510.50" y2="316.90" stroke="#999" stroke-width="0.6"/>
<line x1="509.60" y1="305.50" x2="511.20" y2="305.50" stroke="#999" stroke-width="0.6"/>
<line x1="509.60" y1="316.50" x2="511.20" y2="316.50" stroke="#999" stroke-width="0.6"/>
<ellipse cx="472.00" cy="302.70" rx="1.35" ry="1.85" fill="none" stroke="#444" stroke-width="0.6"/>
<ellipse cx="472.00" cy="305.90" rx="1.35" ry="1.85" fill="none" stroke="#444" stroke-width="0.6"/>
<ellipse cx="491.40" cy="286.70" rx="1.35" ry="1.85" fill="none" stroke="#444" stroke-width="0.6"/>
<ellipse cx="491.40" cy="303.10" rx="1.35" ry="1.85" fill="none" stroke="#444" stroke-width="0.6"/>
<ellipse cx="491.40" cy="306.60" rx="1.35" ry="1.85" fill="none" stroke="#444" stroke-width="0.6"/>
<ellipse cx="491.40" cy="318.70" rx="1.35" ry="1.85" fill="none" stroke="#444" stroke-width="0.6"/>
<ellipse cx="510.40" cy="281.40" rx="1.35" ry="1.85" fill="none" stroke="#444" stroke-width="0.6"/>
<ellipse cx="510.40" cy="291.30" rx="1.35" ry="1.85" fill="none" stroke="#444" stroke-width="0.6"/>
<ellipse cx="510.40" cy="313.40" rx="1.35" ry="1.85" fill="none" stroke="#444" stroke-width="0.6"/>
<text font-size="8.551" fill="#1a1a1a" stroke="#1a1a1a" stroke-width="0.20" transform="translate(456.13 337.60) scale(0.981 1)">Hours After Epo</text>
</g>
</svg>
</body></html>
